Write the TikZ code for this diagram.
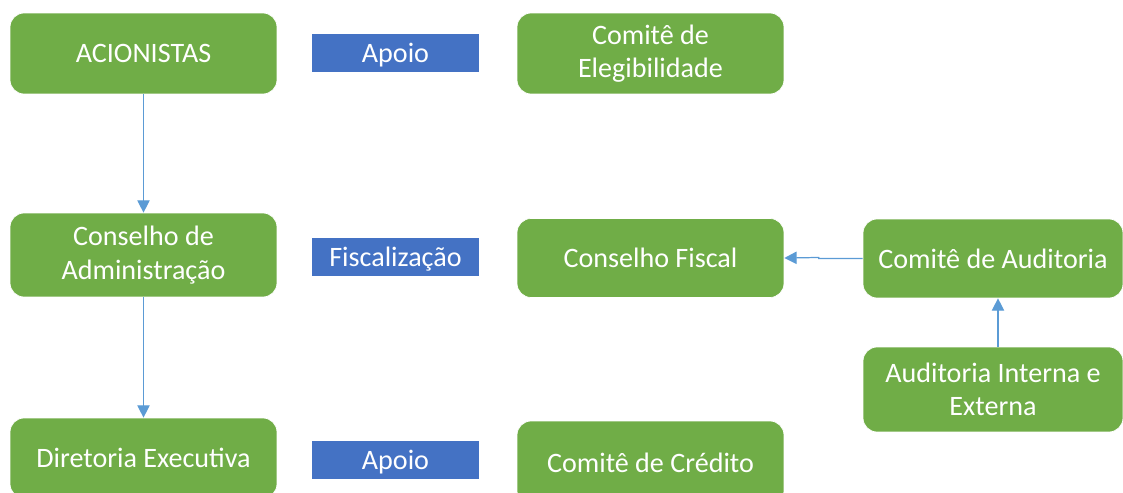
\documentclass[tikz,border=0pt]{standalone}
\usepackage{fontspec}
\setmainfont{Carlito}
\usetikzlibrary{arrows.meta,positioning}
\definecolor{boxgreen}{HTML}{70AD47}
\definecolor{boxblue}{HTML}{4472C4}
\definecolor{linkblue}{HTML}{5B9BD5}

\begin{document}
\begin{tikzpicture}
 [x=0.02cm,y=-0.02cm,
 term/.style={
  rectangle,
  rounded corners=8pt,
  fill=boxgreen,
  draw=white, % border
  text=white,
  align=center,
  font=\fontsize{16}{19}\selectfont,
  minimum width=5.34cm,
  minimum height=1.62cm,
  inner sep=0pt},
 tag/.style={
  rectangle,
  fill=boxblue,
  text=white,
  text height=10.5pt,
  text depth=0pt,
  font=\fontsize{16}{19}\selectfont,
  minimum width=3.34cm,
  minimum height=0.76cm,
  inner sep=0pt},
 tip/.style={-{Triangle[length=7pt,width=7pt]},linkblue,line width=0.7pt}]
\useasboundingbox (0,0) rectangle (1123,493);
\node (acionistas) [term] at (143.5,53.5) {ACIONISTAS};
\node (apoio1) [tag] at (395.5,53) {Apoio};
\node (elegibilidade) [term] at (650.5,53.5) {Comitê de\\Elegibilidade};
\node (conselho) [term,minimum height=1.68cm] at (143.5,255) {Conselho de\\Administração};
\node (fiscalizacao) [tag] at (395.5,257) {Fiscalização};
\node (fiscal) [term,minimum height=1.58cm] at (650.5,258) {Conselho Fiscal};
\node (auditoria) [term,minimum width=5.2cm,minimum height=1.58cm] at (993,258.5) {Comitê de Auditoria};
\node (interna) [term,minimum width=5.2cm,minimum height=1.7cm] at (993,389.5) {Auditoria Interna e\\Externa};
\node (diretoria) [term,minimum height=1.6cm] at (143.5,458) {Diretoria Executiva};
\node (apoio2) [tag] at (395.5,460) {Apoio};
\node (credito) [term,minimum height=1.68cm] at (650.5,463) {Comitê de Crédito};
\draw[tip] (acionistas) -- (conselho);
\draw[tip] (conselho) -- (diretoria);
\draw[tip] (auditoria.west) -- ++(-44,0) -- ++(0,-1) -- (fiscal.east);
\draw[tip] (interna.north -| 998,0) -- (auditoria.south -| 998,0);
\end{tikzpicture}
\end{document}
